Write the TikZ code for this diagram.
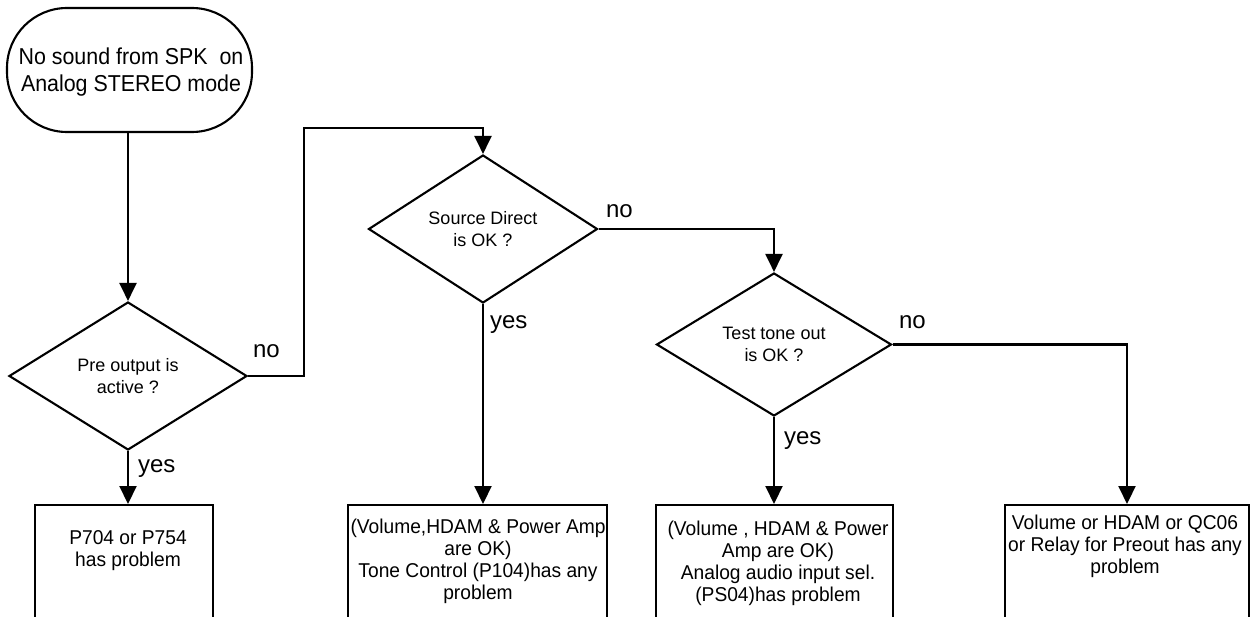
\documentclass[tikz,border=0pt]{standalone}
\usepackage{fontspec}
\setmainfont{Liberation Sans}
\newfontfamily\tallfont[FakeStretch=0.93]{Liberation Sans}
\newfontfamily\boxfont[FakeStretch=0.96]{Liberation Sans}
\usetikzlibrary{arrows.meta,shapes.geometric}
\begin{document}
\begin{tikzpicture}[x=1pt,y=-1pt,line width=2.1pt,
  term/.style={draw, rectangle, rounded corners=60pt, minimum width=245pt, minimum height=124pt, inner sep=0pt},
  termtext/.style={align=center, inner sep=0pt, font=\tallfont\fontsize{23}{27}\selectfont},
  dec/.style={draw, diamond, inner sep=0pt, align=center, font=\fontsize{18}{22}\selectfont},
  box/.style={draw, rectangle, minimum height=220pt, anchor=north, inner sep=0pt},
  boxtext/.style={align=center, inner sep=0pt, font=\boxfont\fontsize{20}{22}\selectfont},
  lbl/.style={font=\fontsize{24}{28}\selectfont, inner sep=0pt, anchor=base west},
  arr/.style={-{Triangle[width=17pt,length=18pt]}}]
\useasboundingbox (0,0) rectangle (1257,617);
\clip (0,0) rectangle (1257,617);

% start
\node[term] (start) at (129.5,70) {};
\node[termtext] (starttxt) at (131,72) {No sound from SPK\ \ on\\Analog STEREO mode};

% decisions
\node[dec, minimum width=238pt, minimum height=148pt] (d1) at (128,376) {Pre output is\\active ?};
\node[dec, minimum width=229pt, minimum height=148pt] (d2) at (483,229) {Source Direct\\is OK ?};
\node[dec, minimum width=235pt, minimum height=143pt] (d3) at (774,344.5) {Test tone out\\is OK ?};

% result boxes
\node[box, minimum width=178pt] (b1) at (124,504) {};
\node[box, minimum width=259pt] (b2) at (477.5,504) {};
\node[box, minimum width=237pt] (b3) at (774.5,504) {};
\node[box, minimum width=244pt] (b4) at (1127,504) {};

\node[boxtext] (t1) at (128,551) {P704 or P754\\has problem};
\node[boxtext] (t2) at (478,561) {(Volume,HDAM \& Power Amp\\are OK)\\Tone Control (P104)has any\\problem};
\node[boxtext] (t3) at (778,563) {(Volume , HDAM \& Power\\Amp are OK)\\Analog audio input sel.\\(PS04)has problem};
\node[boxtext] (t4) at (1125,546) {Volume or HDAM or QC06\\or Relay for Preout has any\\problem};

% connectors
\coordinate (k1) at (304,128);
\draw[arr] (start.south -| d1.north) -- (d1.north);
\draw[arr] (d1.east) -| (k1) -| (d2.north);
\draw[arr] (d1.south) -- (d1.south |- b1.north);
\draw[arr] (d2.east) -| (d3.north);
\draw[arr] (d2.south) -- (d2.south |- b2.north);
\draw[arr] (d3.east) -| (b4.north);
\draw[arr] (d3.south) -- (d3.south |- b3.north);

% labels
\node[lbl] (n1) at (252,357) {no};
\node[lbl] (y1) at (137,472) {yes};
\node[lbl] (n2) at (605,218) {no};
\node[lbl] (y2) at (489,328) {yes};
\node[lbl] (n3) at (898,328) {no};
\node[lbl] (y3) at (783,444) {yes};
\end{tikzpicture}
\end{document}
